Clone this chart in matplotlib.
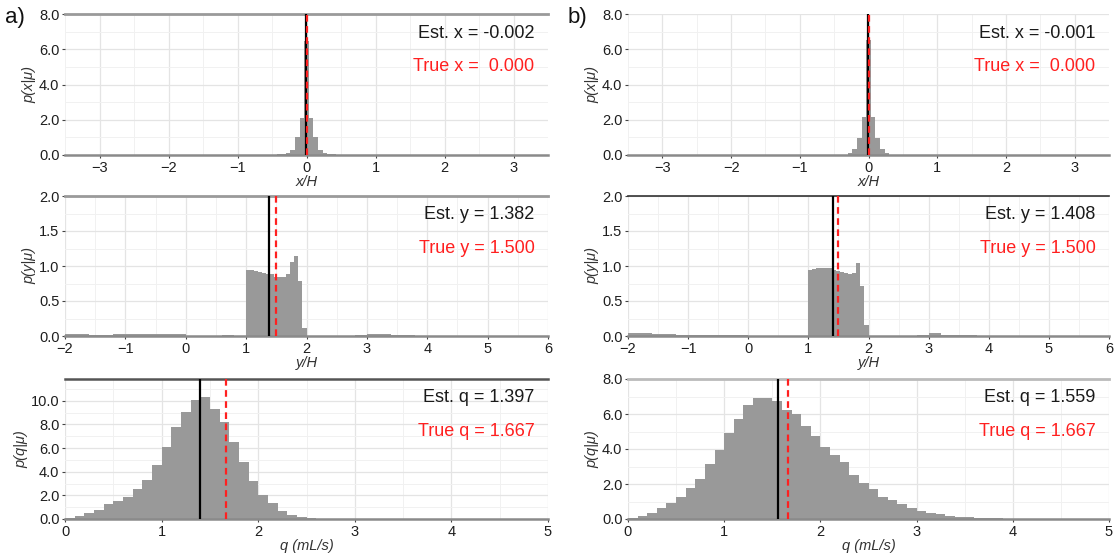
import numpy as np
import matplotlib
matplotlib.use('Agg')
import matplotlib.pyplot as plt
from matplotlib.ticker import MultipleLocator, FormatStrFormatter

plt.rcParams['font.family'] = ['Liberation Sans', 'DejaVu Sans']

# ── data ──────────────────────────────────────────────────────────────────────

# x/H posterior, bins of 1/15 centred on 0, k = -10 .. 10
X_BIN_K = np.arange(-10, 11)
XA_H = [0.01, 0.015, 0.02, 0.02, 0.03, 0.05, 0.1, 0.3, 1.04, 2.08, 6.45,
        2.08, 1.04, 0.3, 0.1, 0.05, 0.03, 0.02, 0.02, 0.015, 0.01]
XB_H = [0.0, 0.0, 0.0, 0.005, 0.01, 0.02, 0.1, 0.33, 0.95, 2.18, 6.55,
        2.18, 0.95, 0.33, 0.1, 0.02, 0.01, 0.005, 0.0, 0.0, 0.0]

# y/H posterior: coarse tails + 15 bins between 1 and 2
Y_LO_EDGES = [-2.0, -1.6, -1.2, -0.8, -0.4, 0.0, 0.6, 0.8]
Y_CORE_EDGES = list(1 + np.arange(16) / 15)
Y_HI_EDGES = [2.8, 3.0, 3.2, 3.4, 3.8, 4.0]
YA_LO = [0.025, 0.02, 0.025, 0.025, 0.03, 0.0, 0.01, 0.0]
YA_CORE = [0.94, 0.95, 0.93, 0.92, 0.905, 0.885, 0.88, 0.85, 0.84, 0.845,
           0.88, 1.06, 1.15, 0.79, 0.12]
YA_HI = [0.0, 0.02, 0.035, 0.025, 0.012, 0.006]
YB_LO = [0.04, 0.03, 0.02, 0.02, 0.02, 0.005, 0.005, 0.0]
YB_CORE = [0.94, 0.955, 0.965, 0.97, 0.97, 0.965, 0.95, 0.935, 0.915, 0.895,
           0.89, 0.9, 1.04, 0.72, 0.16]
YB_HI = [0.003, 0.015, 0.04, 0.02, 0.01, 0.005]

# q posterior, bins of 0.1 starting at 0
Q_BIN = 0.1
QA_H = [0.08, 0.23, 0.5, 0.8, 1.27, 1.56, 1.9, 2.55, 3.3, 4.6, 6.1, 7.8, 9.07,
        10.1, 10.3, 9.35, 8.2, 6.5, 4.8, 3.2, 2.07, 1.36, 0.7, 0.37, 0.17,
        0.06, 0.03]
QB_H = [0.04, 0.15, 0.37, 0.65, 0.94, 1.23, 1.75, 2.27, 3.13, 3.96, 4.94,
        5.71, 6.5, 6.92, 6.92, 6.73, 6.25, 6.0, 5.33, 4.77, 4.13, 3.65, 3.23,
        2.54, 2.08, 1.69, 1.25, 1.06, 0.83, 0.63, 0.44, 0.33, 0.27, 0.2, 0.14,
        0.1, 0.07, 0.05, 0.035, 0.025, 0.02, 0.015, 0.012, 0.01, 0.008,
        0.006, 0.005, 0.004, 0.003, 0.002]

EST_A = [-0.002, 1.382, 1.397]
EST_B = [-0.001, 1.408, 1.559]
TRUE_VALS = [0.0, 1.5, 1.667]
EST_TXT_A = ['Est. x = -0.002', 'Est. y = 1.382', 'Est. q = 1.397']
EST_TXT_B = ['Est. x = -0.001', 'Est. y = 1.408', 'Est. q = 1.559']
TRUE_TXT = ['True x =  0.000', 'True y = 1.500', 'True q = 1.667']
XLABELS = ['x/H', 'y/H', 'q (mL/s)']
YLABELS = ['p(x|\u03bc)', 'p(y|\u03bc)', 'p(q|\u03bc)']
PANEL_TAGS = ['a)', 'b)']

HIST_C = '#999999'
RED = '#ff2020'


def x_edges():
    return np.append(X_BIN_K - 0.5, X_BIN_K[-1] + 0.5) / 15


def y_hist(lo, core, hi):
    # lo covers -2 .. 1.0, core 1.0 .. 2.0, hi 2.0 .. 4.0
    edges = Y_LO_EDGES + Y_CORE_EDGES + Y_HI_EDGES
    heights = lo + core + hi
    return np.array(edges), np.array(heights)


def q_edges(n):
    return np.arange(n + 1) * Q_BIN


def style_axes(ax, xlim, xmaj, ylim, ymaj, top_color, top_lw):
    ax.set_xlim(*xlim)
    ax.set_ylim(*ylim)
    ax.xaxis.set_major_locator(MultipleLocator(xmaj))
    ax.xaxis.set_minor_locator(MultipleLocator(xmaj / 2))
    ax.yaxis.set_major_locator(MultipleLocator(ymaj))
    ax.yaxis.set_minor_locator(MultipleLocator(ymaj / 2))
    ax.yaxis.set_major_formatter(FormatStrFormatter('%.1f'))
    ax.set_axisbelow(True)
    ax.grid(which='major', color='#e4e4e4', lw=0.9)
    ax.grid(which='minor', color='#f1f1f1', lw=0.7)
    for s in ['left', 'right']:
        ax.spines[s].set_visible(False)
    ax.spines['bottom'].set_color('#8a8a8a')
    ax.spines['bottom'].set_linewidth(1.8)
    if top_color is None:
        ax.spines['top'].set_visible(False)
    else:
        ax.spines['top'].set_color(top_color)
        ax.spines['top'].set_linewidth(top_lw)
    ax.tick_params(which='major', length=2.5, width=0.8, color='#444444',
                   labelsize=10.5, labelcolor='#1e1e1e', pad=1.5)
    ax.tick_params(which='minor', length=0)


def draw_panel(ax, edges, heights, est, true, est_txt, true_txt, xlabel, ylabel):
    ax.stairs(heights, edges, fill=True, color=HIST_C, baseline=0, zorder=2)
    ax.axvline(est, color='black', lw=1.6, zorder=3)
    ax.axvline(true, color=RED, lw=1.6, ls=(0, (3, 2)), zorder=4)
    ax.text(0.972, 0.865, est_txt, transform=ax.transAxes, ha='right',
            va='center', fontsize=13, color='#1a1a1a')
    ax.text(0.972, 0.625, true_txt, transform=ax.transAxes, ha='right',
            va='center', fontsize=13, color=RED)
    ax.set_xlabel(xlabel, fontsize=10.5, style='italic', color='#333333',
                  labelpad=0)
    ax.set_ylabel(ylabel, fontsize=10.5, style='italic', color='#333333',
                  labelpad=2)


W, H = 1118, 556
fig = plt.figure(figsize=(W / 100, H / 100), dpi=100)

cols = [(65, 548), (628, 1109)]
rows = [(14, 155), (196, 336), (379, 519)]

ya_e, ya_h = y_hist(YA_LO, YA_CORE, YA_HI)
yb_e, yb_h = y_hist(YB_LO, YB_CORE, YB_HI)

hists = [
    [(x_edges(), np.array(XA_H)), (ya_e, ya_h), (q_edges(len(QA_H)), np.array(QA_H))],
    [(x_edges(), np.array(XB_H)), (yb_e, yb_h), (q_edges(len(QB_H)), np.array(QB_H))],
]
ests = [EST_A, EST_B]
est_txts = [EST_TXT_A, EST_TXT_B]
xlims = [(-3.5, 3.5), (-2, 6), (0, 5)]
ylims = [[(0, 8), (0, 2), (0, 11.85)], [(0, 8), (0, 2), (0, 8)]]
ymajs = [[2, 0.5, 2], [2, 0.5, 2]]
tops = [[('#9a9a9a', 2.0), ('#9a9a9a', 2.0), ('#555555', 1.8)],
        [(None, 0), ('#333333', 1.2), ('#bbbbbb', 2.0)]]

for c, (x0, x1) in enumerate(cols):
    for r, (y0, y1) in enumerate(rows):
        ax = fig.add_axes([x0 / W, 1 - y1 / H, (x1 - x0) / W, (y1 - y0) / H])
        edges, heights = hists[c][r]
        draw_panel(ax, edges, heights, ests[c][r], TRUE_VALS[r],
                   est_txts[c][r], TRUE_TXT[r], XLABELS[r], YLABELS[r])
        style_axes(ax, xlims[r], 1, ylims[c][r], ymajs[c][r], *tops[c][r])
    fig.text((x0 - 60) / W, 1 - 18 / H, PANEL_TAGS[c], fontsize=16,
             va='center', ha='left', color='#111111')

fig.savefig('out.png', dpi=100)
